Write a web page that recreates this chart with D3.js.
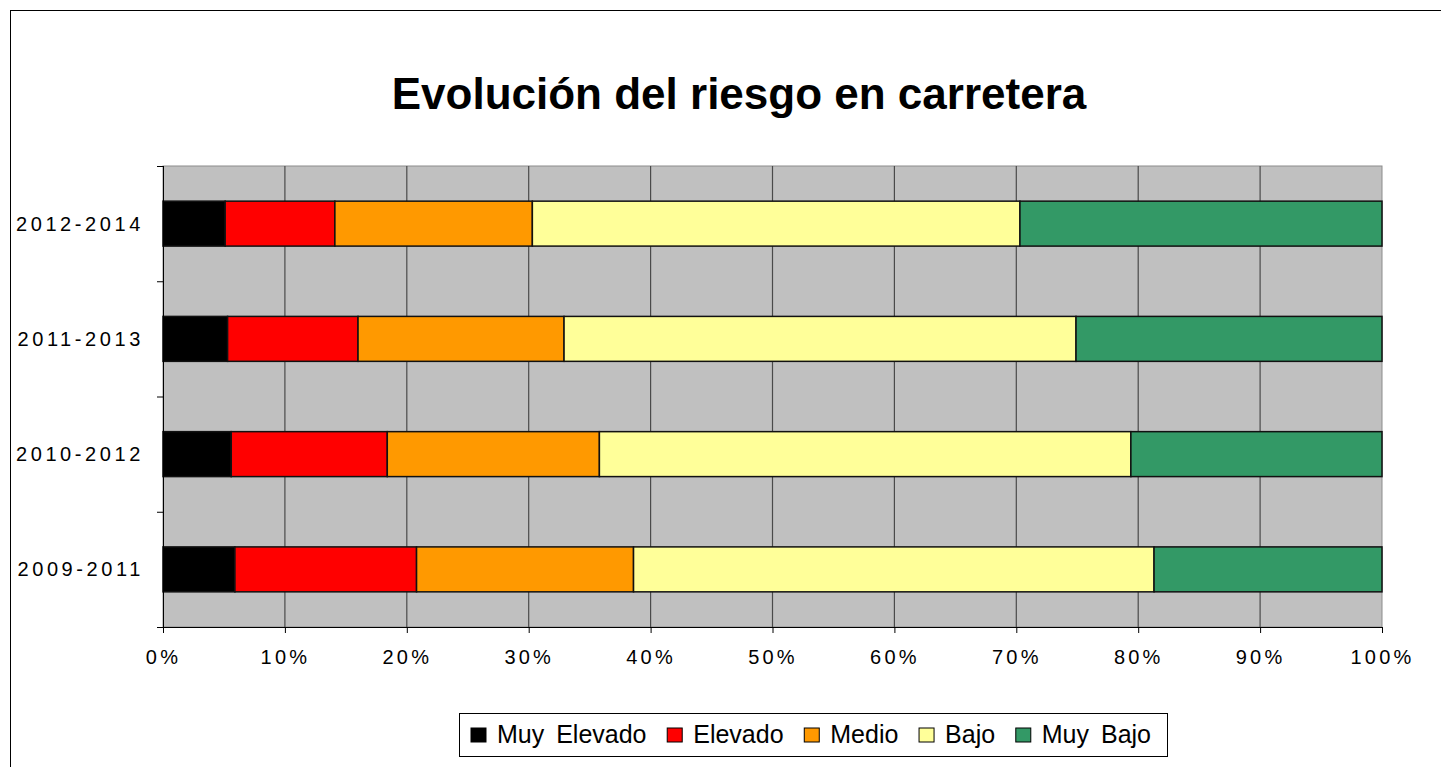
<!DOCTYPE html>
<html lang="es">

<head>
    <meta charset="utf-8">
    <script src="https://cdnjs.cloudflare.com/ajax/libs/d3/7.8.5/d3.min.js"></script>
</head>

<style>
    body {
        margin: 0;
        background: white;
    }
    text {
        font-family: 'Liberation Sans', Arial, sans-serif;
    }
</style>

<body>
    <svg></svg>

    <script>
        // periods, bottom to top as in the chart
        const categories = ['2009-2011', '2010-2012', '2011-2013', '2012-2014']
        const seriesNames = ['Muy Elevado', 'Elevado', 'Medio', 'Bajo', 'Muy Bajo']
        const seriesColors = ['#000000', '#ff0000', '#ff9900', '#ffff99', '#339966']

        // percentages
        const muyElevado = [5.9, 5.6, 5.3, 5.1]
        const elevado = [14.9, 12.8, 10.7, 9.0]
        const medio = [17.8, 17.4, 16.9, 16.2]
        const bajo = [42.7, 43.6, 42.0, 40.0]
        const muyBajo = [18.7, 20.6, 25.1, 29.7]

        const xTicks = [0, 10, 20, 30, 40, 50, 60, 70, 80, 90, 100]

        const w = 1441,
            h = 767
        const plotL = 163, plotR = 1382, plotT = 166, plotB = 627

        const rows = categories.map((c, i) => ({
            cat: c,
            'Muy Elevado': muyElevado[i],
            'Elevado': elevado[i],
            'Medio': medio[i],
            'Bajo': bajo[i],
            'Muy Bajo': muyBajo[i]
        }))
        const stacked = d3.stack().keys(seriesNames)(rows)

        const svg = d3.select('svg')
            .attr('width', w)
            .attr('height', h)

        // outer frame
        svg.append('rect')
            .attr('x', 10.5).attr('y', 10.5)
            .attr('width', w).attr('height', h)
            .attr('fill', 'white')
            .attr('stroke', 'black')

        svg.append('text')
            .attr('x', 739)
            .attr('y', 109)
            .attr('text-anchor', 'middle')
            .attr('font-size', 44)
            .attr('font-weight', 'bold')
            .text('Evolución del riesgo en carretera')

        const xScale = d3.scaleLinear()
            .domain([0, 100])
            .range([plotL, plotR])

        const yScale = d3.scaleBand()
            .domain(categories.slice().reverse())
            .range([plotT, plotB])
            .paddingInner(0.61)
            .paddingOuter(0.305)

        const yEdge = d3.scaleLinear()
            .domain([0, categories.length])
            .range([plotB, plotT])

        // plot background
        svg.append('rect')
            .attr('x', plotL).attr('y', plotT)
            .attr('width', plotR - plotL).attr('height', plotB - plotT)
            .attr('fill', '#c0c0c0')
            .attr('stroke', '#8c8c8c')

        // vertical grid
        svg.append('g')
            .selectAll('line')
            .data(xTicks.slice(1, -1))
            .enter()
            .append('line')
            .attr('x1', d => xScale(d)).attr('x2', d => xScale(d))
            .attr('y1', plotT).attr('y2', plotB)
            .attr('stroke', '#4a4a4a')
            .attr('stroke-width', 1.2)

        // bars
        svg.append('g')
            .selectAll('g')
            .data(stacked)
            .enter()
            .append('g')
            .attr('fill', (d, i) => seriesColors[i])
            .selectAll('rect')
            .data(d => d)
            .enter()
            .append('rect')
            .attr('x', d => xScale(d[0]))
            .attr('y', d => yScale(d.data.cat))
            .attr('width', d => xScale(d[1]) - xScale(d[0]))
            .attr('height', yScale.bandwidth())
            .attr('stroke', '#111')
            .attr('stroke-width', 1.5)

        // x axis
        const xAxis = d3.axisBottom(xScale)
            .tickValues(xTicks)
            .tickSize(6)
            .tickPadding(17)
            .tickFormat(d => d + '%')
        const gx = svg.append('g')
            .attr('transform', 'translate(0,' + plotB + ')')
            .call(xAxis)
        gx.select('.domain').attr('d', 'M' + (plotL - 6) + ',0.5H' + plotR)
        gx.selectAll('text')
            .attr('font-size', 20)
            .attr('letter-spacing', 3.2)
            .attr('fill', 'black')
            .attr('font-family', "'Liberation Sans', Arial, sans-serif")

        // y axis: ticks on band edges, labels centred on bands
        const gy = svg.append('g')
            .attr('transform', 'translate(' + plotL + ',0)')
            .call(d3.axisLeft(yEdge).ticks(categories.length).tickSize(6).tickFormat(''))
        gy.select('.domain').attr('d', 'M0.5,' + plotT + 'V' + plotB)
        svg.append('g')
            .selectAll('text')
            .data(categories)
            .enter()
            .append('text')
            .attr('x', 144)
            .attr('y', d => yScale(d) + yScale.bandwidth() / 2 + 7)
            .attr('text-anchor', 'end')
            .attr('font-size', 20)
            .attr('letter-spacing', 3.6)
            .text(d => d)

        // legend
        const legend = svg.append('g')
        legend.append('rect')
            .attr('x', 459.5).attr('y', 713.5)
            .attr('width', 708).attr('height', 43)
            .attr('fill', 'white')
            .attr('stroke', 'black')

        const items = legend.selectAll('g')
            .data(seriesNames)
            .enter()
            .append('g')
        items.append('rect')
            .attr('y', 728)
            .attr('width', 15).attr('height', 14)
            .attr('fill', (d, i) => seriesColors[i])
            .attr('stroke', 'black')
        items.append('text')
            .attr('y', 743)
            .attr('font-size', 25)
            .attr('word-spacing', 5)
            .text(d => d)

        // spread the items between the legend's inner edges
        const widths = items.select('text').nodes().map(n => n.getComputedTextLength())
        const startX = 471, endX = 1151, markGap = 26
        const gap = (endX - startX - d3.sum(widths) - markGap * widths.length) / (widths.length - 1)
        let lx = startX
        items.each(function (d, i) {
            d3.select(this).select('rect').attr('x', lx)
            d3.select(this).select('text').attr('x', lx + markGap)
            lx += markGap + widths[i] + gap
        })
    </script>
</body>

</html>
